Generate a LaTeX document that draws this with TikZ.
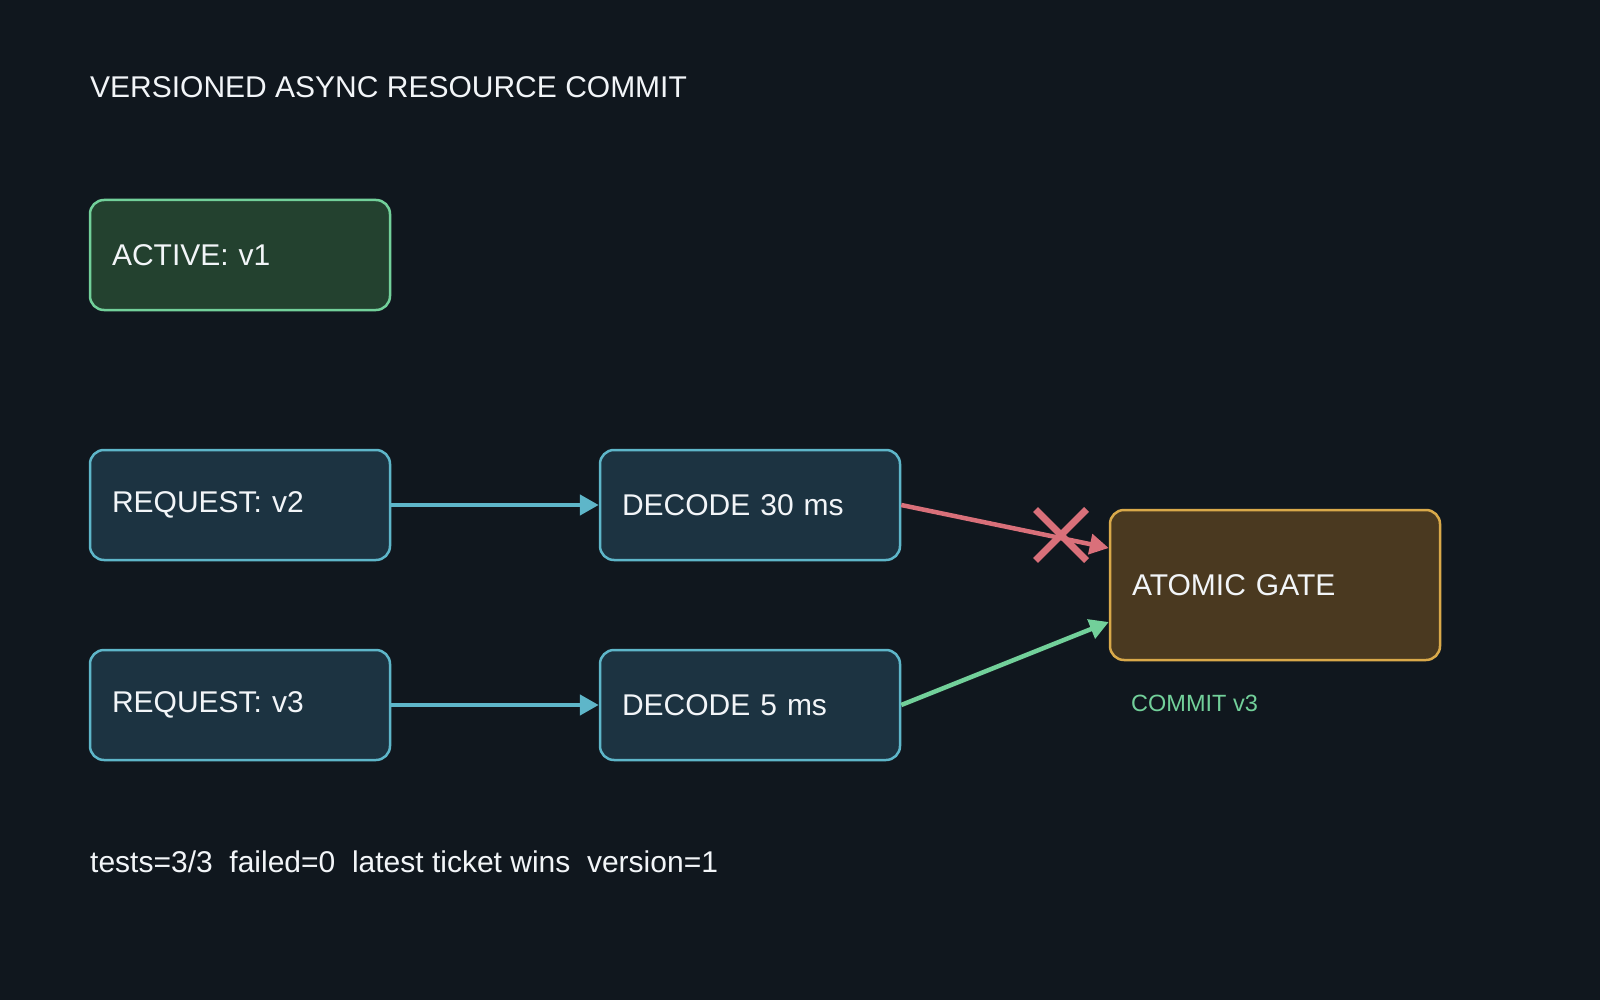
\documentclass[tikz,border=0pt]{standalone}
\usepackage{fontspec}
\setmainfont{Liberation Sans}
\usetikzlibrary{arrows.meta,shapes.misc,calc}
\definecolor{bgdark}{HTML}{10171E}
\definecolor{txtwhite}{HTML}{F2F5F8}
\definecolor{bluefill}{HTML}{1C3341}
\definecolor{blueline}{HTML}{5EB6C9}
\definecolor{greenfill}{HTML}{23412F}
\definecolor{greenline}{HTML}{72D09A}
\definecolor{goldfill}{HTML}{4A3920}
\definecolor{goldline}{HTML}{D9A94A}
\definecolor{redline}{HTML}{D9707A}
\begin{document}
\begin{tikzpicture}[x=1pt, y=-1pt,
  box/.style={rectangle, rounded corners=14pt, line width=2.5pt, minimum width=300pt, minimum height=110pt,
    inner xsep=22pt, text width=256pt, align=left, text=txtwhite, font=\fontsize{30}{34}\selectfont},
  reqbox/.style={box, draw=blueline, fill=bluefill},
  activebox/.style={box, draw=greenline, fill=greenfill},
  gatebox/.style={box, draw=goldline, fill=goldfill, minimum width=330pt, minimum height=150pt, text width=286pt},
  flow/.style={line width=4.5pt, -{Triangle[length=19pt, width=20pt]}},
  caption/.style={anchor=base west, inner sep=0pt, text=txtwhite, font=\fontsize{30}{34}\selectfont}]
\fill[bgdark] (0,0) rectangle (1600,1000);
\node[caption] (title) at (90,98){VERSIONED ASYNC RESOURCE COMMIT};
\node[activebox] (active) at (240,255){ACTIVE: v1};
\node[reqbox] (req2) at (240,505){REQUEST: v2};
\node[reqbox] (dec30) at (750,505){DECODE 30 ms};
\draw[flow, blueline](req2) -- (dec30);
\node[reqbox] (req3) at (240,705){REQUEST: v3};
\node[reqbox] (dec5) at (750,705){DECODE 5 ms};
\draw[flow, blueline](req3) -- (dec5);
\node[gatebox] (gate) at (1275,585){ATOMIC GATE};
\draw[flow, redline](dec30.east) -- ($(gate.west)+(0,-37)$);
\node[cross out, draw=redline, line width=7pt, minimum size=44pt, inner sep=0pt] (reject) at (1061,535){};
\draw[flow, greenline](dec5.east) -- ($(gate.west)+(0,37)$);
\node[caption, text=greenline, font=\fontsize{23.5}{27}\selectfont] (commit) at (1131,711){COMMIT v3};
\node[caption] (status) at (90,872){tests=3/3\ \ failed=0\ \ latest ticket wins\ \ version=1};
\end{tikzpicture}
\end{document}
